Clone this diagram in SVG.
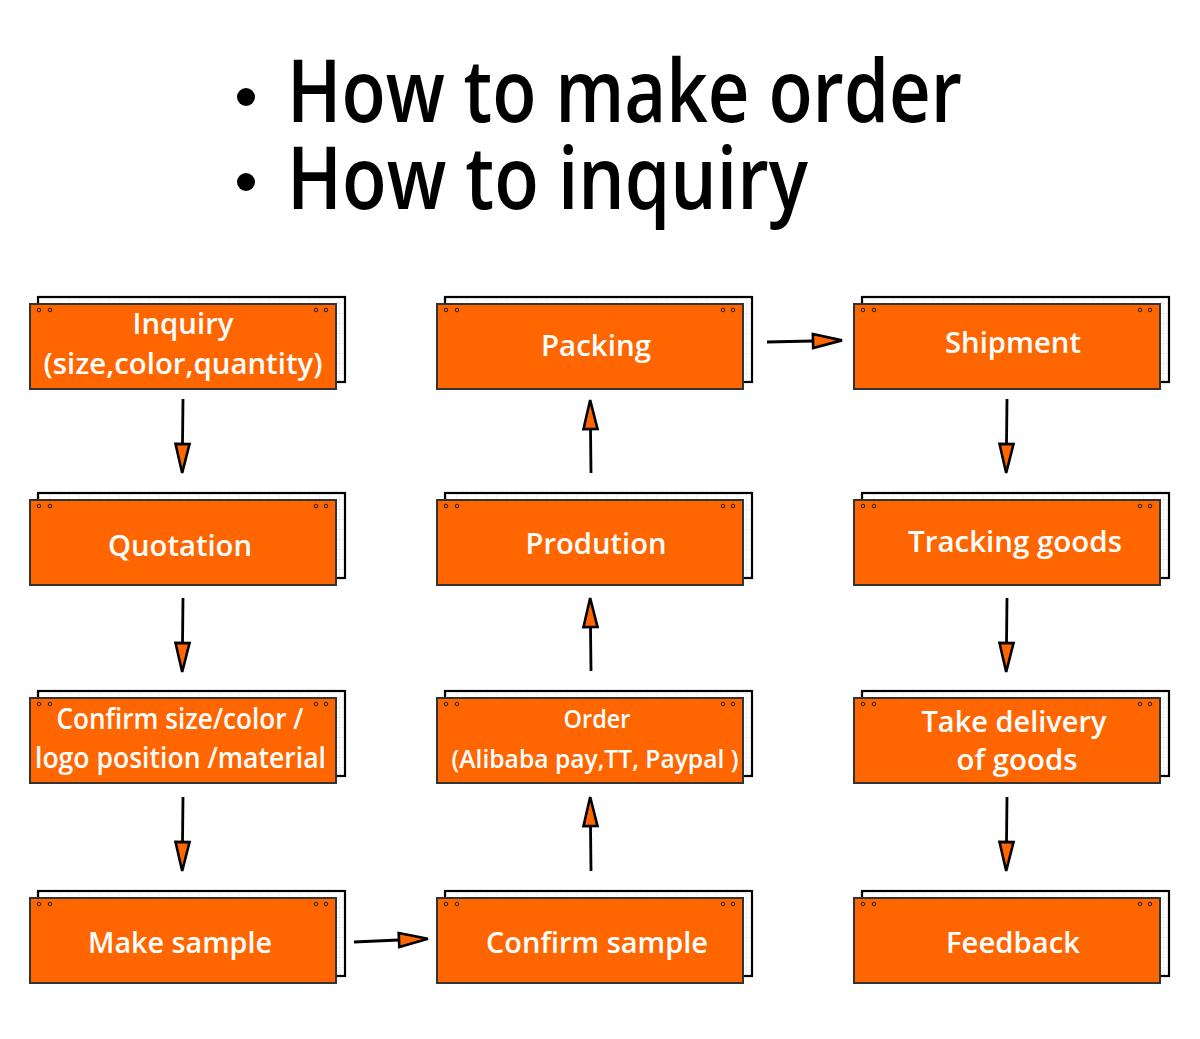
<svg xmlns="http://www.w3.org/2000/svg" width="1200" height="1039" viewBox="0 0 1200 1039">
<defs>
  <pattern id="grid" width="10" height="10" patternUnits="userSpaceOnUse">
    <rect width="10" height="10" fill="#ffffff"/>
    <path d="M10,0 V10 M0,10 H10" stroke="#dedede" stroke-width="0.8" fill="none"/>
  </pattern>
  <marker id="ah" viewBox="-3 -3 35 20" refX="0" refY="7" markerWidth="35" markerHeight="20" markerUnits="userSpaceOnUse" orient="auto">
    <path d="M0,0 L29,7 L0,14 Z" fill="#FF6600" stroke="#000" stroke-width="2.6" stroke-linejoin="miter"/>
  </marker>
  <style>
    .back{fill:url(#grid);stroke:#000;stroke-width:2.2}
    .front{fill:#FF6600;stroke:#333;stroke-width:2}
    .dot{fill:#FF6600;stroke:#222;stroke-width:1}
    .lbl{font-family:"Open Sans","Noto Sans","Liberation Sans",sans-serif;font-size:28px;font-weight:600;fill:#ffffff;text-anchor:middle}
    .sm{font-size:25px}
    .title{font-family:"Open Sans","Noto Sans","Liberation Sans",sans-serif;font-size:86px;font-weight:600;fill:#000}
    .conn path{fill:none;stroke:#000;stroke-width:2.8;marker-end:url(#ah)}
  </style>
  <g id="card">
    <rect class="back" x="8" y="-7" width="307" height="85"/>
    <rect class="front" x="0" y="0" width="306" height="85"/>
    <circle class="dot" cx="9" cy="6" r="1.8"/>
    <circle class="dot" cx="20" cy="6" r="1.8"/>
    <circle class="dot" cx="286" cy="6" r="1.8"/>
    <circle class="dot" cx="296" cy="6" r="1.8"/>
  </g>
</defs>

<g id="title">
  <circle cx="246" cy="97" r="9" fill="#000"/>
  <text class="title" x="287" y="122" textLength="675" lengthAdjust="spacingAndGlyphs">How to make order</text>
  <circle cx="246" cy="182" r="9" fill="#000"/>
  <text class="title" x="287" y="209" textLength="521" lengthAdjust="spacingAndGlyphs">How to inquiry</text>
</g>

<g id="inquiry">
  <use href="#card" x="30" y="304"/>
  <text class="lbl" x="183" y="334" textLength="101" lengthAdjust="spacingAndGlyphs">Inquiry</text>
  <text class="lbl" x="183" y="374" textLength="279" lengthAdjust="spacingAndGlyphs">(size,color,quantity)</text>
</g>
<g id="quotation">
  <use href="#card" x="30" y="500"/>
  <text class="lbl" x="180" y="556" textLength="144" lengthAdjust="spacingAndGlyphs">Quotation</text>
</g>
<g id="confirm-size">
  <use href="#card" x="30" y="698"/>
  <text class="lbl" x="180" y="729" textLength="247" lengthAdjust="spacingAndGlyphs">Confirm size/color /</text>
  <text class="lbl" x="180.5" y="768" textLength="291" lengthAdjust="spacingAndGlyphs">logo position /material</text>
</g>
<g id="make-sample">
  <use href="#card" x="30" y="898"/>
  <text class="lbl" x="180" y="953" textLength="184" lengthAdjust="spacingAndGlyphs">Make sample</text>
</g>

<g id="packing">
  <use href="#card" x="437" y="304"/>
  <text class="lbl" x="596" y="356" textLength="110" lengthAdjust="spacingAndGlyphs">Packing</text>
</g>
<g id="prodution">
  <use href="#card" x="437" y="500"/>
  <text class="lbl" x="596" y="554" textLength="141" lengthAdjust="spacingAndGlyphs">Prodution</text>
</g>
<g id="order">
  <use href="#card" x="437" y="698"/>
  <text class="lbl sm" x="597" y="728" textLength="67" lengthAdjust="spacingAndGlyphs">Order</text>
  <text class="lbl sm" x="595" y="768" textLength="287" lengthAdjust="spacingAndGlyphs">(Alibaba pay,TT, Paypal )</text>
</g>
<g id="confirm-sample">
  <use href="#card" x="437" y="898"/>
  <text class="lbl" x="597" y="953" textLength="222" lengthAdjust="spacingAndGlyphs">Confirm sample</text>
</g>

<g id="shipment">
  <use href="#card" x="854" y="304"/>
  <text class="lbl" x="1013" y="353" textLength="136" lengthAdjust="spacingAndGlyphs">Shipment</text>
</g>
<g id="tracking">
  <use href="#card" x="854" y="500"/>
  <text class="lbl" x="1015" y="552" textLength="214" lengthAdjust="spacingAndGlyphs">Tracking goods</text>
</g>
<g id="delivery">
  <use href="#card" x="854" y="698"/>
  <text class="lbl" x="1014" y="732" textLength="185" lengthAdjust="spacingAndGlyphs">Take delivery</text>
  <text class="lbl" x="1017" y="770" textLength="121" lengthAdjust="spacingAndGlyphs">of goods</text>
</g>
<g id="feedback">
  <use href="#card" x="854" y="898"/>
  <text class="lbl" x="1013" y="953" textLength="134" lengthAdjust="spacingAndGlyphs">Feedback</text>
</g>

<g id="connectors" class="conn">
  <path d="M183,399 L182.5,444"/>
  <path d="M183,598 L182.5,643"/>
  <path d="M183,797 L182.5,842"/>
  <path d="M354,942 L399,940"/>
  <path d="M591,871 L590.5,826"/>
  <path d="M591,671 L590.5,627"/>
  <path d="M591,473 L590.5,429"/>
  <path d="M767,342 L813,341"/>
  <path d="M1007,399 L1006.5,444"/>
  <path d="M1007,598 L1006.5,643"/>
  <path d="M1007,797 L1006.5,842"/>
</g>
</svg>
